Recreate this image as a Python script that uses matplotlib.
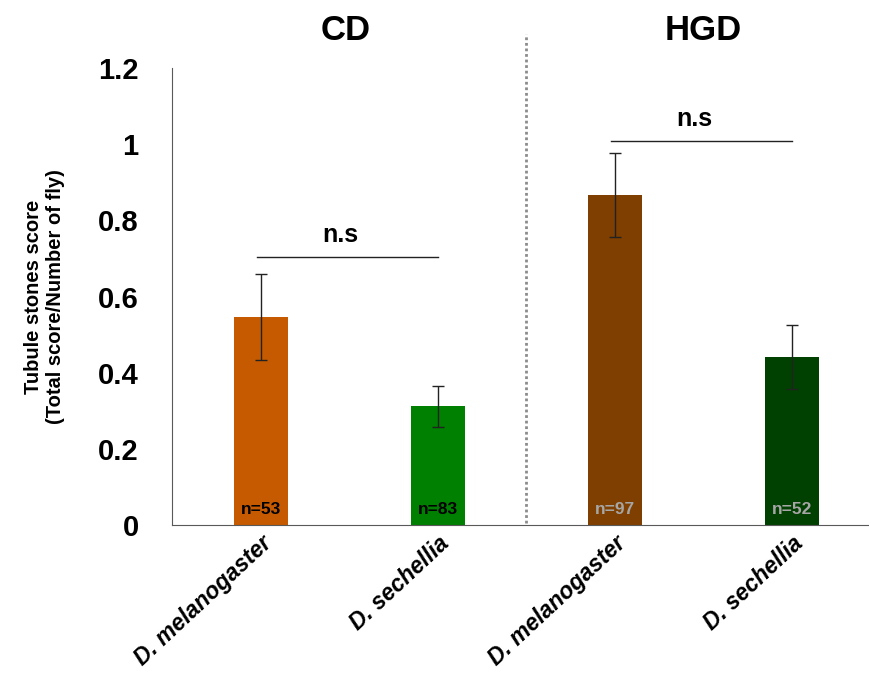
import numpy as np
import matplotlib.pyplot as plt

plt.rcParams['font.family'] = ['Liberation Sans', 'DejaVu Sans']

# data
species = ['D. melanogaster', 'D. sechellia', 'D. melanogaster', 'D. sechellia']
scores = [0.546, 0.312, 0.866, 0.441]
errors = [0.113, 0.054, 0.110, 0.084]
n_labels = ['n=53', 'n=83', 'n=97', 'n=52']
n_colors = ['black', 'black', '#a6a6a6', '#a6a6a6']
colors = ['#c55a00', '#008000', '#7f3f00', '#004000']
groups = ['CD', 'HGD']

fig = plt.figure(figsize=(8.7, 6.83), dpi=100)
ax = fig.add_axes([0.1977, 0.2313, 0.8023, 0.6691])

x = np.arange(len(scores))
ax.bar(x, scores, width=0.305, color=colors)
ax.errorbar(x, scores, yerr=errors, fmt='none', ecolor='#222222',
            elinewidth=1, capsize=4, capthick=1)

for xi, lab, c in zip(x, n_labels, n_colors):
    ax.text(xi, 0.02, lab, ha='center', va='bottom', fontsize=12.5,
            fontweight='bold', color=c)

# significance bars
for (a, b), yv in zip([(0, 1), (2, 3)], [0.704, 1.009]):
    ax.plot([a - 0.02, b], [yv, yv], color='#222222', lw=1)
    ax.text((a + b) / 2 - 0.05, yv + 0.025, 'n.s', ha='center', va='bottom',
            fontsize=18, fontweight='bold')

# group titles
for gx, g in zip([0.48, 2.5], groups):
    ax.text(gx, 1.255, g, ha='center', va='bottom', fontsize=25,
            fontweight='bold', clip_on=False)

# divider
ax.plot([1.5, 1.5], [0.005, 1.29], color='#8c8c8c', lw=2, ls=(0, (1, 1)),
        clip_on=False)

ax.set_xlim(-0.5, 3.44)
ax.set_ylim(0, 1.2)
ax.set_yticks([0, 0.2, 0.4, 0.6, 0.8, 1.0, 1.2])
ax.set_yticklabels(['0', '0.2', '0.4', '0.6', '0.8', '1', '1.2'],
                   fontsize=21, fontweight='bold')
ax.tick_params(axis='y', length=0, pad=24)
ax.set_xticks(x)
ax.set_xticklabels(species, rotation=43, ha='right', rotation_mode='anchor',
                   fontsize=16.5, fontweight='bold', style='italic')
ax.tick_params(axis='x', length=0, pad=5)

ax.set_ylabel('Tubule stones score\n(Total score/Number of fly)',
              fontsize=14.5, fontweight='bold', labelpad=24)

for s in ['top', 'right']:
    ax.spines[s].set_visible(False)
ax.spines['left'].set_color('#595959')
ax.spines['bottom'].set_color('#595959')

fig.savefig('out.png', dpi=100)
